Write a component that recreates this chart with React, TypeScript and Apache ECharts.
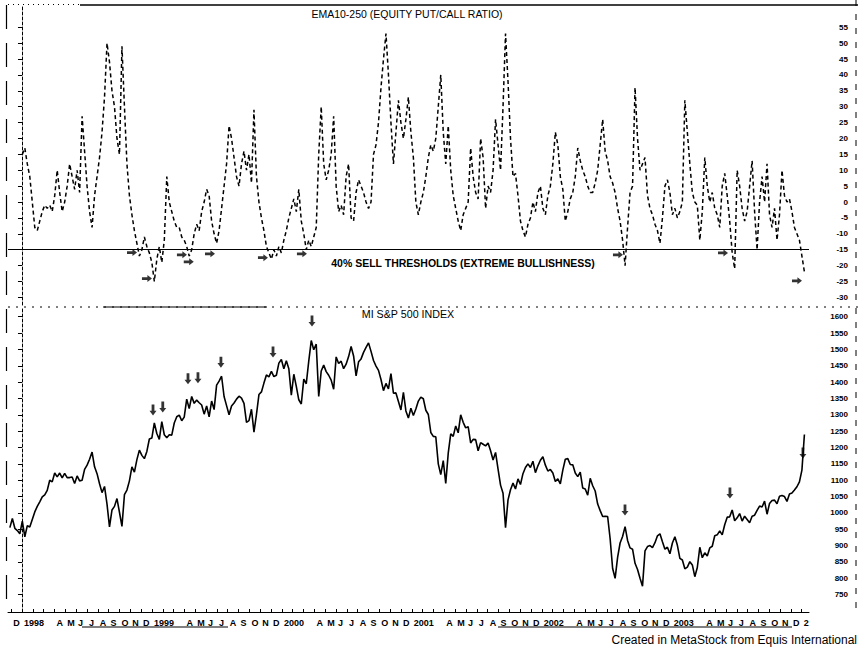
import React, { useEffect, useRef } from "react";
import * as echarts from "echarts";

// Weekly (Friday) samples. First sample: 1997-11-28.
const FIRST_FRIDAY = Date.UTC(1997, 10, 28);
const JAN_1998 = Date.UTC(1998, 0, 1);
const DAY = 86400000;
const MONTH_DAYS = 30.4375;

// EMA10-250 of equity put/call ratio (weekly readings)
const pcr1997 = [null, null, null, null, null];
const pcr1998 = [15, 17, 12, 8, 0, -8, -9, -6, -3, -1, -2, -1, -3, 2, 10, 3, -3, 0, 5, 12, 8, 4, 10, 3, 27, 16, 5, -3, -8, 2, 8, 14, 22, 33, 50, 44, 35, 30, 20, 15, 49, 30, 12, 2, -4, -9, -13, -17, -15, -11, -14, -16];
const pcr1999 = [-19, -25, -18, -14, -19, -12, 8, 0, -3, -6, -8, -8, -11, -12, -14, -17, -15, -10, -7, -9, -3, 0, 4, 2, -6, -10, -13, -9, -2, 5, 12, 24, 20, 14, 8, 5, 12, 16, 10, 15, 6, 29, 8, 0, -5, -9, -14, -16, -18, -15, -17, -14, -16];
const pcr2000 = [-12, -9, -5, -2, 1, -3, 4, -6, -10, -15, -12, -14, -11, -8, 15, 30, 12, 7, 10, 15, 27, 5, -3, -1, -4, 8, 12, -5, -6, 3, 7, 5, 3, 0, -2, 0, 15, 18, 25, 36, 45, 53, 40, 25, 12, 22, 32, 25, 20, 26, 33, 22];
const pcr2001 = [14, 0, -4, 0, 3, 8, 14, 18, 16, 20, 30, 40, 22, 12, 24, 10, 2, -2, -6, -9, -4, -2, 0, 17, 8, 3, 1, 20, 14, -2, 5, 3, 10, 26, 18, 10, 30, 53, 38, 20, 8, 9, 2, -6, -9, -11, -7, -5, 0, -3, 3, 5];
const pcr2002 = [-2, -4, 2, 5, 12, 22, 18, 8, 4, -6, -3, 1, 3, 8, 17, 13, 10, 8, 5, 3, 3, 6, 10, 18, 26, 16, 13, 8, 6, 3, -2, -6, -12, -20, -8, 3, 5, 36, 20, 10, 12, 14, 2, -2, -4, -7, -9, -13, -5, 5, 7, 3];
const pcr2003 = [-4, -2, -5, -3, 0, 32, 22, 12, 3, 0, -1, -12, -3, 14, 5, 0, 3, -2, -4, -8, 5, 9, 2, -6, -16, -21, 10, 5, -2, -6, -3, 5, 13, -3, -15, 0, 8, 0, 12, -4, -8, -2, -12, -4, 10, 2, 0, 1, -3, -8, -10, -12];
const pcr2004 = [-17, -22];

// S&P 500 index (weekly readings)
const spx1997 = [955, 983, 953, 946, 936];
const spx1998 = [975, 927, 961, 957, 980, 1003, 1020, 1034, 1049, 1055, 1069, 1100, 1095, 1122, 1110, 1122, 1107, 1121, 1108, 1108, 1110, 1090, 1113, 1098, 1100, 1133, 1146, 1164, 1186, 1141, 1120, 1089, 1062, 1081, 1027, 957, 1009, 1020, 1044, 1002, 959, 1056, 1070, 1098, 1141, 1125, 1163, 1192, 1176, 1166, 1188, 1226];
const spx1999 = [1229, 1275, 1243, 1225, 1279, 1239, 1230, 1239, 1238, 1275, 1294, 1299, 1282, 1293, 1348, 1319, 1356, 1335, 1345, 1337, 1330, 1302, 1327, 1294, 1342, 1316, 1391, 1403, 1418, 1356, 1328, 1300, 1327, 1336, 1348, 1357, 1351, 1335, 1277, 1282, 1317, 1247, 1301, 1362, 1370, 1397, 1422, 1416, 1433, 1417, 1421, 1458, 1469];
const spx2000 = [1441, 1465, 1441, 1360, 1424, 1387, 1346, 1333, 1409, 1395, 1464, 1527, 1499, 1516, 1356, 1434, 1452, 1432, 1421, 1406, 1378, 1477, 1457, 1464, 1441, 1455, 1478, 1509, 1480, 1419, 1462, 1471, 1491, 1506, 1520, 1494, 1466, 1449, 1436, 1408, 1374, 1396, 1379, 1426, 1366, 1367, 1341, 1315, 1369, 1312, 1290, 1320];
const spx2001 = [1298, 1318, 1342, 1354, 1349, 1314, 1301, 1246, 1234, 1233, 1150, 1117, 1160, 1090, 1183, 1242, 1234, 1266, 1245, 1300, 1277, 1260, 1264, 1214, 1225, 1224, 1190, 1215, 1210, 1205, 1214, 1190, 1162, 1185, 1134, 1085, 1060, 955, 1040, 1071, 1091, 1073, 1104, 1087, 1120, 1139, 1150, 1139, 1158, 1123, 1144, 1161];
const spx2002 = [1172, 1146, 1128, 1133, 1122, 1096, 1104, 1089, 1131, 1164, 1166, 1148, 1147, 1122, 1111, 1125, 1076, 1073, 1054, 1106, 1083, 1067, 1027, 1007, 989, 990, 989, 921, 830, 800, 864, 908, 928, 958, 916, 893, 889, 846, 827, 800, 776, 884, 897, 900, 894, 909, 930, 936, 912, 889, 895, 875];
const spx2003 = [908, 927, 901, 861, 856, 829, 834, 851, 841, 805, 833, 895, 863, 878, 868, 893, 898, 930, 933, 945, 933, 964, 987, 988, 1009, 976, 985, 998, 975, 990, 980, 970, 990, 993, 1008, 1021, 1018, 1036, 996, 1029, 1038, 1039, 1028, 1051, 1053, 1050, 1035, 1058, 1061, 1070, 1080, 1095];
const spx2004 = [1131, 1240];

// Arrow annotations: [month index from Jan 1998, value]
const sellArrows = [[10.16, -15.9], [11.54, -24.1], [14.77, -16.6], [15.4, -18.8], [17.36, -16.3], [22.25, -17.5], [25.85, -16.3], [55.03, -16.6], [64.73, -16.0], [71.56, -24.8]];
const topArrows = [[12.1, 1315], [13.0, 1324], [15.33, 1410], [16.25, 1413], [18.37, 1461], [23.18, 1492], [26.78, 1587], [55.68, 1009], [65.37, 1061], [72.11, 1183]];

const THRESHOLD = -15;
const pcrTicks = [-30, -25, -20, -15, -10, -5, 0, 5, 10, 15, 20, 25, 30, 35, 40, 45, 50, 55];
const spxTicks = [750, 800, 850, 900, 950, 1000, 1050, 1100, 1150, 1200, 1250, 1300, 1350, 1400, 1450, 1500, 1550, 1600];
const monthTicks = Array.from({ length: 74 }, (_, k) => k - 1); // Dec 1997 .. Jan 2004
const monthLetters = ["", "", "", "A", "M", "J", "J", "A", "S", "O", "N", "D"];

const pcrWeekly = [...pcr1997, ...pcr1998, ...pcr1999, ...pcr2000, ...pcr2001, ...pcr2002, ...pcr2003, ...pcr2004];
const spxWeekly = [...spx1997, ...spx1998, ...spx1999, ...spx2000, ...spx2001, ...spx2002, ...spx2003, ...spx2004];

const weekToMonth = (i: number) => (FIRST_FRIDAY + i * 7 * DAY - JAN_1998) / (MONTH_DAYS * DAY);

const FONT = "'Liberation Sans', Arial, sans-serif";
const X_MIN = -1.29;
const X_MAX = 72.67;

const RIGHT_ARROW = "path://M0,3 L6,3 L6,0 L11,5 L6,10 L6,7 L0,7 Z";
const DOWN_ARROW = "path://M3,0 L7,0 L7,7 L10,7 L5,12 L0,7 L3,7 Z";

function monthLabel(v: number) {
  const r = Math.round(v);
  const mo = ((r % 12) + 12) % 12;
  const yr = 1998 + Math.floor(r / 12);
  if (mo === 0) return yr === 2004 ? "2" : String(yr);
  return monthLetters[mo];
}

export default function App() {
  const ref = useRef<HTMLDivElement>(null);
  useEffect(() => {
    const chart = echarts.init(ref.current!, null, { renderer: "svg" });
    const line = (x1: number, y1: number, x2: number, y2: number, dash: any = null, w = 1) => ({
      type: "line",
      shape: { x1, y1, x2, y2 },
      style: { stroke: "#000", lineWidth: w, lineDash: dash },
      silent: true,
    });
    const yLabel = (ticks: number[]) => ({
      customValues: ticks,
      formatter: (v: number) => String(v),
      align: "right",
      margin: 39,
      color: "#000",
      fontFamily: FONT,
      fontWeight: "bold",
      fontSize: 8,
    });
    const option: any = {
      animation: false,
      backgroundColor: "#fff",
      grid: [
        { left: 8, right: 51, top: 5, height: 300 },
        { left: 8, right: 51, top: 307, height: 305 },
      ],
      xAxis: [
        { type: "value", gridIndex: 0, min: X_MIN, max: X_MAX, show: false },
        {
          type: "value",
          gridIndex: 1,
          min: X_MIN,
          max: X_MAX,
          splitLine: { show: false },
          axisLine: { lineStyle: { color: "#000", width: 1 } },
          axisTick: { customValues: monthTicks, inside: true, length: 3, lineStyle: { color: "#000" } },
          axisLabel: {
            customValues: monthTicks,
            formatter: monthLabel,
            align: "left",
            padding: [0, 0, 0, 2],
            margin: 6,
            color: "#000",
            fontFamily: FONT,
            fontWeight: "bold",
            fontSize: 9,
          },
        },
      ],
      yAxis: [
        {
          type: "value",
          gridIndex: 0,
          position: "right",
          min: -32.4,
          max: 62,
          splitLine: { show: false },
          axisLine: { show: true, lineStyle: { color: "#000", width: 1, type: [3, 2] } },
          axisTick: { customValues: pcrTicks, inside: true, length: 4, lineStyle: { color: "#000" } },
          axisLabel: yLabel(pcrTicks),
        },
        {
          type: "value",
          gridIndex: 1,
          position: "right",
          min: 697,
          max: 1629.7,
          splitLine: { show: false },
          axisLine: { show: true, lineStyle: { color: "#000", width: 1, type: [3, 2] } },
          axisTick: { customValues: spxTicks, inside: true, length: 4, lineStyle: { color: "#000" } },
          axisLabel: yLabel(spxTicks),
        },
      ],
      series: [
        {
          name: "EMA10-250 (EQUITY PUT/CALL RATIO)",
          type: "line",
          xAxisIndex: 0,
          yAxisIndex: 0,
          showSymbol: false,
          data: pcrWeekly.map((v, i) => [weekToMonth(i), v]),
          lineStyle: { color: "#000", width: 1.5, type: [4, 3] },
          markLine: {
            silent: true,
            symbol: ["none", "none"],
            label: { show: false },
            lineStyle: { color: "#000", type: "solid", width: 1.2 },
            data: [{ yAxis: THRESHOLD }],
          },
        },
        {
          type: "scatter",
          xAxisIndex: 0,
          yAxisIndex: 0,
          symbol: RIGHT_ARROW,
          symbolSize: [10, 7],
          itemStyle: { color: "#000" },
          data: sellArrows,
        },
        {
          name: "MI S&P 500 INDEX",
          type: "line",
          xAxisIndex: 1,
          yAxisIndex: 1,
          showSymbol: false,
          data: spxWeekly.map((v, i) => [weekToMonth(i), v]),
          lineStyle: { color: "#000", width: 1.6 },
        },
        {
          type: "scatter",
          xAxisIndex: 1,
          yAxisIndex: 1,
          symbol: DOWN_ARROW,
          symbolSize: [7, 11],
          itemStyle: { color: "#000" },
          data: topArrows,
        },
      ],
      graphic: [
        line(80, 5, 858, 5, null, 1.5),
        line(8, 4.5, 80, 4.5, [1, 4], 1),
        line(6.5, 5, 6.5, 612, [24, 14], 1.2),
        line(8, 307, 858, 307, [2, 6], 1),
        line(103, 307, 267, 307, null, 1),
        line(856, 0, 856, 612, [6, 8], 1),
        line(82, 627, 228, 627, null, 1),
        line(498, 627, 792, 627, null, 1),
        {
          type: "text",
          x: 407,
          y: 14,
          style: { text: "EMA10-250 (EQUITY PUT/CALL RATIO)", fill: "#000", font: `10.5px ${FONT}`, textAlign: "center", textVerticalAlign: "middle" },
        },
        {
          type: "text",
          x: 463,
          y: 263,
          style: { text: "40% SELL THRESHOLDS (EXTREME BULLISHNESS)", fill: "#000", font: `bold 10.5px ${FONT}`, textAlign: "center", textVerticalAlign: "middle" },
        },
        {
          type: "text",
          x: 408,
          y: 314,
          style: { text: "MI S&P 500 INDEX", fill: "#000", font: `10.7px ${FONT}`, textAlign: "center", textVerticalAlign: "middle" },
        },
        {
          type: "text",
          x: 857,
          y: 640,
          style: { text: "Created in MetaStock from Equis International", fill: "#000", font: `12px ${FONT}`, textAlign: "right", textVerticalAlign: "middle" },
        },
      ],
    };
    chart.setOption(option);
    return () => chart.dispose();
  }, []);
  return <div ref={ref} style={{ position: "absolute", left: 0, top: 0, width: 860, height: 650, background: "#fff" }} />;
}
